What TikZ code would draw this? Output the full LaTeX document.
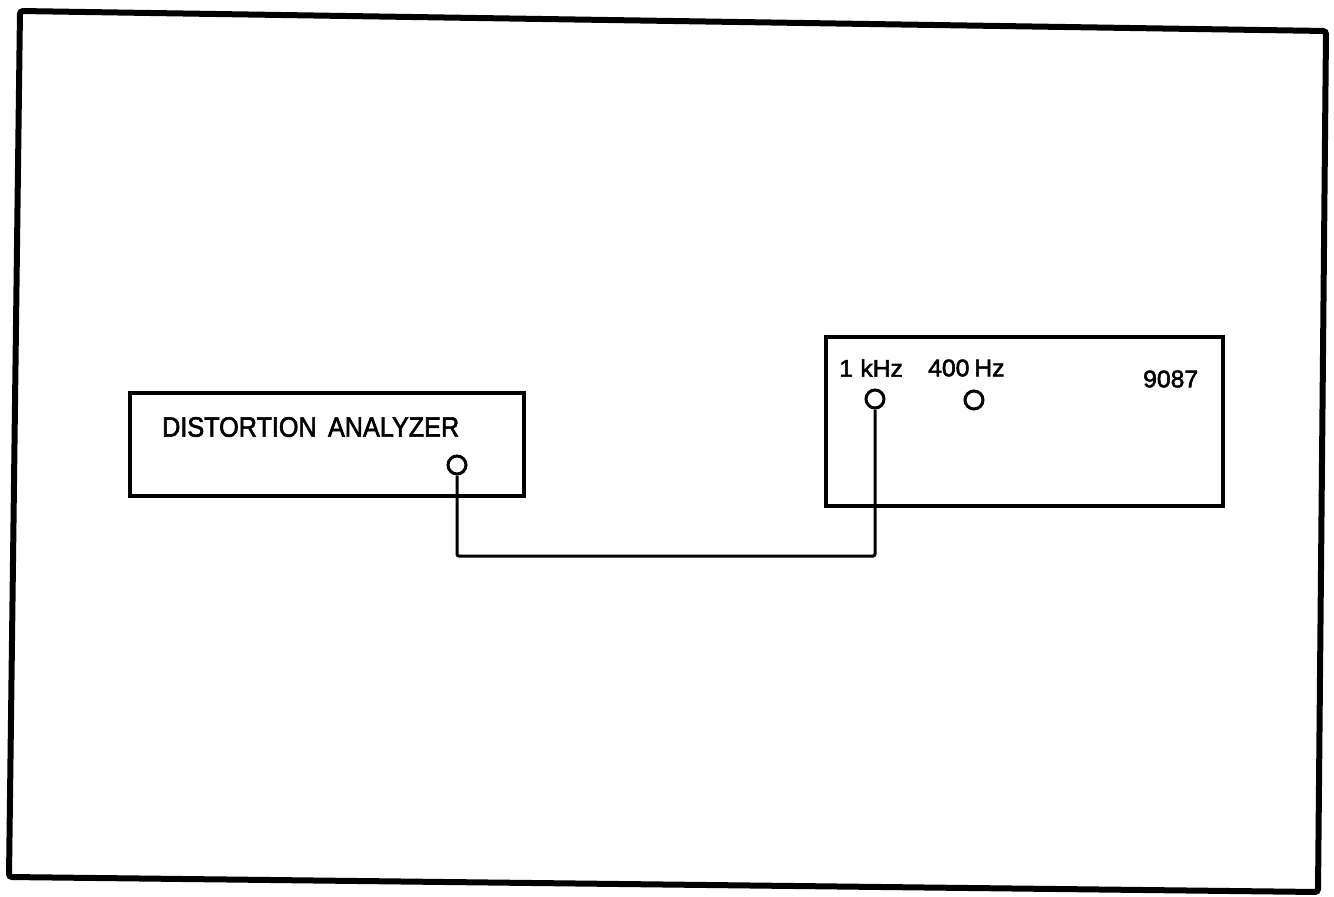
\documentclass[tikz,border=0pt]{standalone}
\usepackage{fontspec}
\setmainfont{Liberation Sans}
\newfontfamily\lblfont{Liberation Sans}[FakeBold=2.2]
\begin{document}
\begin{tikzpicture}[x=1pt,y=-1pt,
  frameline/.style={line width=6pt,rounded corners=3pt},
  unitbox/.style={draw,line width=3.3pt,rectangle,inner sep=0pt},
  jack/.style={draw,circle,line width=3pt,minimum size=18pt,inner sep=0pt},
  wire/.style={line width=3pt,rounded corners=2pt},
  biglabel/.style={font=\lblfont\fontsize{28}{30}\selectfont,inner sep=0pt,anchor=west},
  smalllabel/.style={font=\lblfont\fontsize{24}{26}\selectfont,inner sep=0pt,anchor=west}]
\useasboundingbox (0,0) rectangle (1334,897);
\draw[frameline] (20,11) -- (1326,31) -- (1318,892) -- (9,877) -- cycle;
% units
\node[unitbox,minimum width=394pt,minimum height=103pt] (ana) at (327,444.5) {};
\node[unitbox,minimum width=397pt,minimum height=169pt] (gen) at (1024.5,421.5) {};
% labels
\node[biglabel] (analbl) at (162,427) {\scalebox{0.9}[1]{DISTORTION\hspace{0.45em}ANALYZER}};
\node[smalllabel] (l1k) at (839,368) {\scalebox{1.03}[1]{1\hspace{0.3em}kHz}};
\node[smalllabel] (l400) at (928,368) {\scalebox{1.03}[1]{400\hspace{0.2em}Hz}};
\node[smalllabel] (lnum) at (1143,379) {\scalebox{1.03}[1]{9087}};
% jacks
\node[jack] (jana) at (457,465) {};
\node[jack] (j1k) at (875,399) {};
\node[jack] (j400) at (974,400) {};
% cable
\coordinate (wmid) at (660,556);
\draw[wire] (jana.south) |- (wmid) -| (j1k.south);
\end{tikzpicture}
\end{document}
